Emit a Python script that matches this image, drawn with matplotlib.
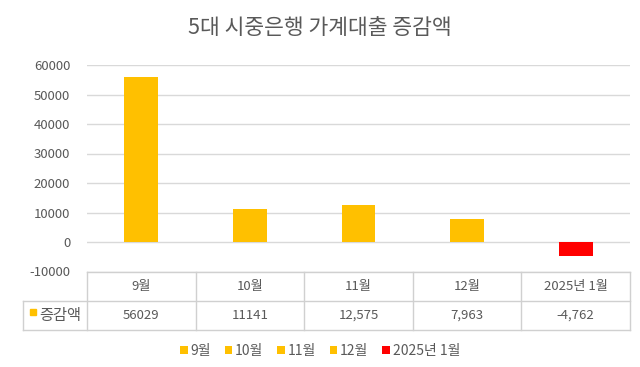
import matplotlib.pyplot as plt
from matplotlib.patches import Patch
from matplotlib.lines import Line2D

plt.rcParams['font.family'] = ['Noto Sans CJK KR', 'DejaVu Sans']

# data
months = ['9월', '10월', '11월', '12월', '2025년 1월']
values = [56029, 11141, 12575, 7963, -4762]
table_text = ['56029', '11141', '12,575', '7,963', '-4,762']
colors = ['#FFC000', '#FFC000', '#FFC000', '#FFC000', '#FF0000']
series_name = '증감액'
yticks = [-10000, 0, 10000, 20000, 30000, 40000, 50000, 60000]

W, H = 640, 367
fig = plt.figure(figsize=(6.4, 3.67), dpi=100)

def fx(px):
    return px / W

def fy(py):
    return 1 - py / H

left, right, top, bottom = 87, 630, 65, 271.5
ax = fig.add_axes([fx(left), fy(bottom), fx(right - left), fy(top) - fy(bottom)])

x = range(len(months))
ax.bar(x, values, width=0.31, color=colors, zorder=3)
ax.set_xlim(-0.5, len(months) - 0.5)
ax.set_ylim(-10000, 60000)
ax.set_yticks(yticks)
ax.set_yticklabels([str(v) for v in yticks])
ax.tick_params(axis='y', length=0, colors='#595959', labelsize=9.5, pad=12)
ax.tick_params(axis='x', length=0, labelbottom=False)
ax.grid(axis='y', color='#d9d9d9', linewidth=1, zorder=0)
for s in ax.spines.values():
    s.set_visible(False)

fig.text(0.5, fy(28), '5대 시중은행 가계대출 증감액', ha='center', va='center',
         fontsize=15.5, color='#595959')

# data table under the plot
col_w = (right - left) / len(months)
tbl_top, tbl_mid, tbl_bot = 272, 301, 330
lab_left = 23
lc = '#d0d0d0'
def hline(y, x0, x1):
    fig.add_artist(Line2D([fx(x0), fx(x1)], [fy(y), fy(y)], color=lc, lw=1))
def vline(xp, y0, y1):
    fig.add_artist(Line2D([fx(xp), fx(xp)], [fy(y0), fy(y1)], color=lc, lw=1))

hline(tbl_top, left, right)
hline(tbl_mid, lab_left, right)
hline(tbl_bot, lab_left, right)
vline(lab_left, tbl_mid, tbl_bot)
for i in range(len(months) + 1):
    vline(left + i * col_w, tbl_top, tbl_bot)

for i, (m, t) in enumerate(zip(months, table_text)):
    cx = left + (i + 0.5) * col_w
    fig.text(fx(cx), fy((tbl_top + tbl_mid) / 2), m, ha='center', va='center',
             fontsize=9.5, color='#595959')
    fig.text(fx(cx), fy((tbl_mid + tbl_bot) / 2), t, ha='center', va='center',
             fontsize=9.5, color='#595959')

ymid = (tbl_mid + tbl_bot) / 2
fig.add_artist(plt.Rectangle((fx(30), fy(ymid - 1)), fx(6), fy(0) - fy(6),
                             color='#FFC000', transform=fig.transFigure))
fig.text(fx(39), fy(ymid), series_name, ha='left', va='center',
         fontsize=11, color='#595959')

# legend
handles = [Patch(facecolor=c, edgecolor='none') for c in colors]
fig.legend(handles, months, loc='center', bbox_to_anchor=(0.5, fy(351)), ncol=5,
           frameon=False, fontsize=10, labelcolor='#595959', handlelength=0.55,
           handleheight=0.55, handletextpad=0.2, columnspacing=1.0)

fig.savefig('out.png', dpi=100)
